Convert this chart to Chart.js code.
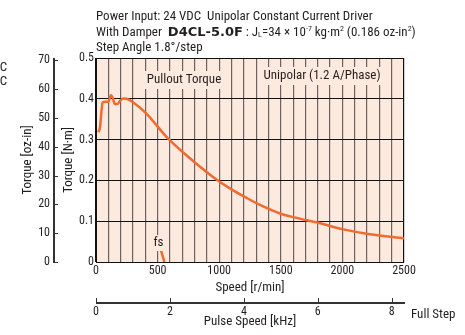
<!DOCTYPE html>
<html>
<head>
<meta charset="utf-8">
<script src="https://cdn.jsdelivr.net/npm/chart.js@4.4.1/dist/chart.umd.min.js"></script>
<style>
  body { margin: 0; background: #fff; }
  canvas { display: block; }
</style>
</head>
<body>
<canvas id="grafico" width="465" height="335"></canvas>
<script>
// valores
const speed = [19, 32, 54, 73, 100, 122, 135, 154, 173, 195, 222, 249, 303, 411, 574, 736, 952, 1100, 1223, 1331, 1494, 1601, 1805, 2008, 2224, 2500]
const torque = [0.318, 0.33, 0.391, 0.393, 0.393, 0.409, 0.403, 0.387, 0.387, 0.395, 0.401, 0.400, 0.391, 0.363, 0.306, 0.261, 0.208, 0.178, 0.157, 0.140, 0.119, 0.110, 0.096, 0.080, 0.068, 0.058]
const fsSpeed = [528, 555]
const fsTorque = [0.028, 0]
const speedLabels = [0, 500, 1000, 1500, 2000, 2500]
const torqueLabels = [0, 0.1, 0.2, 0.3, 0.4, 0.5]
const ozLabels = [0, 10, 20, 30, 40, 50, 60, 70]
const pulseLabels = [0, 2, 4, 6, 8]

const OZ_POR_NM = 141.612
const PULSE_MAX = 2500 / 60 * 200 / 1000

const FONTE = "'Liberation Sans Narrow', 'Roboto Condensed', Roboto, sans-serif"
const COR_TEXTO = '#231f20'
const COR_FUNDO = '#fdeadf'
const COR_CURVA = '#f26a2e'
const COR_EIXO = '#333'

Chart.defaults.font.family = FONTE
Chart.defaults.font.size = 12
Chart.defaults.color = COR_TEXTO

function escreveLinha(ctx, x, y, partes) {
  partes.forEach(p => {
    ctx.font = p.font || `13px ${FONTE}`
    ctx.fillText(p.t, x, y + (p.dy || 0))
    x += ctx.measureText(p.t).width
  })
}

function caixaTexto(ctx, texto, cx, cy, w, h) {
  ctx.fillStyle = COR_FUNDO
  ctx.fillRect(cx - w / 2, cy - h / 2, w, h)
  ctx.fillStyle = COR_TEXTO
  ctx.textAlign = 'center'
  ctx.fillText(texto, cx, cy)
}

const desenhos = {
  id: 'desenhos',
  beforeDraw(chart) {
    const {ctx, chartArea: a} = chart
    ctx.save()
    ctx.fillStyle = COR_FUNDO
    ctx.fillRect(a.left, a.top, a.right - a.left, a.bottom - a.top)
    ctx.restore()
  },
  afterDraw(chart) {
    const ctx = chart.ctx
    const sc = chart.scales
    ctx.save()
    ctx.textBaseline = 'middle'

    // rotulos dentro do grafico
    ctx.font = `13px ${FONTE}`
    caixaTexto(ctx, 'Pullout Torque', 184, 80, 78, 18)
    caixaTexto(ctx, 'Unipolar (1.2 A/Phase)', 322, 76, 124, 18)
    caixaTexto(ctx, 'fs', 158.5, 243, 13, 16)

    // linhas e marcas dos eixos secundarios
    ctx.fillStyle = COR_EIXO
    const xOz = Math.round(sc.yOz.right)
    ctx.fillRect(xOz, sc.yOz.top, 2, sc.yOz.bottom - sc.yOz.top + 1)
    sc.yOz.ticks.forEach(t => {
      const y = Math.round(sc.yOz.getPixelForValue(t.value))
      ctx.fillRect(xOz, y, 5, 1)
    })
    const yPulse = Math.round(sc.xPulse.top)
    ctx.fillRect(sc.xPulse.left, yPulse, sc.xPulse.right - sc.xPulse.left + 1, 2)
    sc.xPulse.ticks.forEach(t => {
      const x = Math.round(sc.xPulse.getPixelForValue(t.value))
      ctx.fillRect(x, yPulse - 4, 1, 5)
    })

    // titulo
    ctx.textAlign = 'left'
    ctx.fillStyle = COR_TEXTO
    escreveLinha(ctx, 96, 17, [{t: 'Power Input: 24 VDC  Unipolar Constant Current Driver'}])
    const pequena = `8px ${FONTE}`
    escreveLinha(ctx, 96, 33, [
      {t: 'With Damper  '},
      {t: 'D4CL-5.0F', font: `bold 13px 'DejaVu Sans', sans-serif`},
      {t: ' : J'},
      {t: 'L', font: pequena, dy: 2},
      {t: '=34'},
      {t: ' × '},
      {t: '10'},
      {t: '-7', font: pequena, dy: -4},
      {t: ' kg·m'},
      {t: '2', font: pequena, dy: -4},
      {t: ' (0.186 oz-in'},
      {t: '2', font: pequena, dy: -4},
      {t: ')'}
    ])
    escreveLinha(ctx, 96, 48, [{t: 'Step Angle 1.8°/step'}])

    ctx.font = `13px ${FONTE}`
    ctx.fillText('Full Step', 411, 315)
    ctx.textAlign = 'right'
    ctx.fillText('C', 7, 68)
    ctx.fillText('C', 7, 82)
    ctx.restore()
  }
}

const eixoTitulo = (texto, padding) => ({
  display: true, text: texto, padding: padding,
  font: {size: 13}, color: COR_TEXTO
})

new Chart(document.getElementById('grafico'), {
  type: 'scatter',
  data: {
    datasets: [{
      label: 'Pullout Torque',
      data: speed.map((s, i) => ({x: s, y: torque[i]})),
      showLine: true,
      borderColor: COR_CURVA,
      borderWidth: 2.5,
      pointRadius: 0,
      cubicInterpolationMode: 'monotone',
      xAxisID: 'x', yAxisID: 'y'
    }, {
      label: 'fs',
      data: fsSpeed.map((s, i) => ({x: s, y: fsTorque[i]})),
      showLine: true,
      borderColor: COR_CURVA,
      borderWidth: 2.5,
      pointRadius: 0,
      xAxisID: 'x', yAxisID: 'y'
    }]
  },
  options: {
    responsive: false,
    animation: false,
    events: [],
    layout: {padding: {left: 0, top: 58, right: 61, bottom: 0}},
    plugins: {legend: {display: false}, tooltip: {enabled: false}},
    scales: {
      x: {
        type: 'linear', position: 'bottom', weight: 0,
        min: 0, max: 2500,
        ticks: {
          stepSize: 100, padding: 2, maxRotation: 0, autoSkip: false,
          callback: v => speedLabels.includes(v) ? String(v) : ''
        },
        grid: {
          drawTicks: false, lineWidth: 1.2,
          color: c => (c.tick.value === 0 || c.tick.value === 2500) ? '#111' : '#6e6260'
        },
        border: {display: true, color: '#111', width: 1},
        title: eixoTitulo('Speed [r/min]', {top: 0, bottom: 5.5}),
        afterFit: s => { s.height = 39.5 }
      },
      xPulse: {
        type: 'linear', position: 'bottom', weight: 1,
        min: 0, max: PULSE_MAX,
        ticks: {
          stepSize: 2, padding: 3, includeBounds: false, maxRotation: 0,
          callback: v => pulseLabels.includes(v) ? String(v) : ''
        },
        grid: {display: false, drawTicks: false},
        border: {display: false},
        title: eixoTitulo('Pulse Speed [kHz]', {top: 0, bottom: 5}),
        afterFit: s => { s.height = 33.5 }
      },
      y: {
        type: 'linear', position: 'left', weight: 0,
        min: 0, max: 0.5,
        ticks: {
          stepSize: 0.1, padding: 2,
          callback: v => torqueLabels.some(t => Math.abs(t - v) < 1e-9) ? (v === 0 ? '0' : v.toFixed(1)) : ''
        },
        grid: {drawTicks: false, color: '#111', lineWidth: 1},
        border: {display: true, color: '#111', width: 1},
        title: eixoTitulo('Torque [N·m]', {top: 8, bottom: 0}),
        afterFit: s => { s.width = 43 }
      },
      yOz: {
        type: 'linear', position: 'left', weight: 1,
        min: 0, max: 0.5 * OZ_POR_NM,
        ticks: {
          stepSize: 10, padding: 3, includeBounds: false,
          callback: v => ozLabels.includes(v) ? String(v) : ''
        },
        grid: {display: false, drawTicks: false},
        border: {display: false},
        title: eixoTitulo('Torque [oz-in]', {top: 20, bottom: 0}),
        afterFit: s => { s.width = 53 }
      }
    }
  },
  plugins: [desenhos]
})
</script>
</body>
</html>
